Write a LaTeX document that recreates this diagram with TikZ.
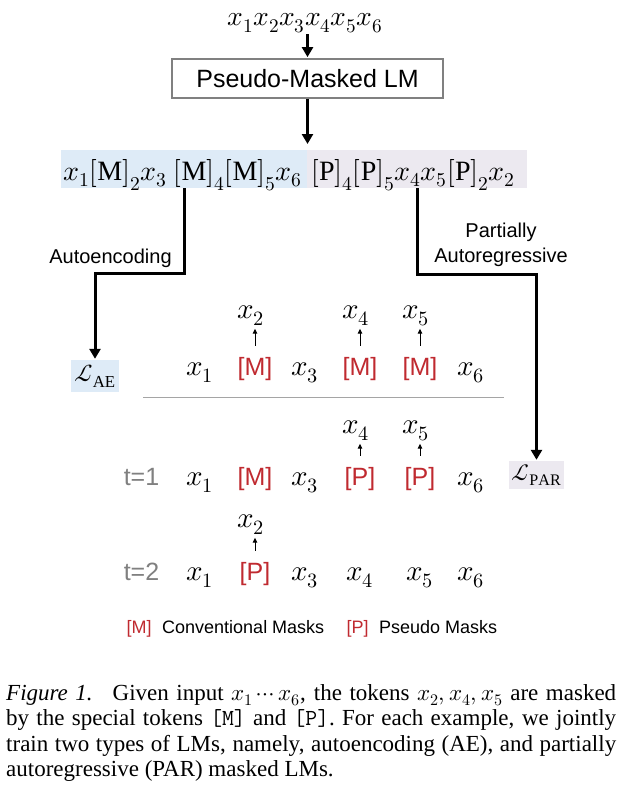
\documentclass[tikz,border=0pt]{standalone}
\usepackage{fontspec}
\usepackage{unicode-math}
\setmainfont{Liberation Serif}
\setmathfont{Latin Modern Math}
\newfontfamily\arial{Liberation Sans}
\usetikzlibrary{arrows.meta,calc}
\definecolor{hlblue}{RGB}{222,235,247}
\definecolor{hllav}{RGB}{236,233,240}
\definecolor{maskred}{RGB}{192,42,48}
\definecolor{tgray}{RGB}{128,128,128}
\definecolor{boxgray}{RGB}{128,128,128}
\definecolor{sepgray}{RGB}{165,165,165}
\begin{document}
\begin{tikzpicture}[x=1pt,y=-1pt,
  tok/.style={inner sep=0pt, anchor=base, text height=18pt, text depth=5pt},
  mtok/.style={tok, font=\fontsize{29}{32}\selectfont},
  atok/.style={tok, font=\arial\fontsize{25}{30}\selectfont},
  mask/.style={atok, text=maskred},
  tlab/.style={atok, text=tgray},
  pred/.style={inner sep=0pt, anchor=base, text height=13pt, text depth=5pt, font=\fontsize{29}{32}\selectfont},
  smallarr/.style={-{Triangle[length=5pt,width=4.5pt]}, line width=1pt, shorten <=11pt, shorten >=5.5pt},
  bigarr/.style={-{Triangle[length=10pt,width=11pt]}, line width=3pt},
  hl/.style={inner sep=0pt, anchor=north west},
  lbl/.style={font=\arial\fontsize{20}{25}\selectfont, align=center, inner sep=0pt},
  legm/.style={inner sep=0pt, anchor=base, font=\arial\fontsize{18}{22}\selectfont, text=maskred},
  legt/.style={inner sep=0pt, anchor=base west, font=\arial\fontsize{18}{22}\selectfont}
]
\useasboundingbox (0,0) rectangle (621,792);
\fill[white] (0,0) rectangle (621,792);

% input and box
\node[inner sep=0pt, anchor=base, font=\fontsize{27.5}{30}\selectfont] (inp) at (305,26) {$x_1x_2x_3x_4x_5x_6$};
\node[draw=boxgray, line width=1.8pt, minimum width=271pt, minimum height=39pt, inner sep=0pt, font=\arial\fontsize{25}{30}\selectfont] (box) at (307.5,78.5) {Pseudo-Masked LM};
\draw[bigarr, shorten <=1pt, shorten >=1pt] (box.north |- inp.south) -- (box.north);

% sequence highlights and text
\node[hl, fill=hlblue, minimum width=246pt, minimum height=38pt] (hlA) at (61,150) {};
\node[hl, fill=hllav, minimum width=220pt, minimum height=38pt] (hlB) at (307,150) {};
\draw[bigarr, shorten >=6pt] (box.south) -- (box.south |- hlA.north);
\node[inner sep=0pt, anchor=base west, font=\fontsize{28}{30}\selectfont] (seqA) at (63,180) {$x_1\mathrm{[M]}_2x_3\ \mathrm{[M]}_4\mathrm{[M]}_5x_6$};
\node[inner sep=0pt, anchor=base west, font=\fontsize{28}{30}\selectfont] (seqB) at (311,180) {$\mathrm{[P]}_4\mathrm{[P]}_5x_4x_5\mathrm{[P]}_2x_2$};

% losses
\node[fill=hlblue, minimum width=48pt, minimum height=32pt, inner sep=0pt, font=\fontsize{24}{28}\selectfont] (LAE) at (95,376) {$\mathcal{L}_{\mathrm{AE}}$};
\node[fill=hllav, minimum width=55pt, minimum height=28pt, inner sep=0pt, font=\fontsize{23}{28}\selectfont] (LPAR) at (536.5,475) {$\mathcal{L}_{\mathrm{PAR}}$};

\coordinate (aeS) at (184,188);
\coordinate (parS) at (417,188);
\draw[bigarr, shorten >=1pt] (aeS) -- ++(0,85) -| (LAE.north);
\draw[bigarr, shorten >=1pt] (parS) -- ++(0,86) -| (LPAR.north);
\node[lbl] (aeLbl) at (110.5,258) {Autoencoding};
\node[lbl] (parLbl) at (501,245) {Partially\\Autoregressive};

% AE row
\node[mtok] (a1) at (200,375) {$x_1$};
\node[mask] (a2) at (255,375) {[M]};
\node[mtok] (a3) at (305,375) {$x_3$};
\node[mask] (a4) at (360,375) {[M]};
\node[mask] (a5) at (420,375) {[M]};
\node[mtok] (a6) at (471,375) {$x_6$};
\node[pred] (ap2) at (251,318) {$x_2$};
\node[pred] (ap4) at (356,318) {$x_4$};
\node[pred] (ap5) at (416,318) {$x_5$};
\draw[smallarr] (a2.north) -- (a2.north |- ap2.south);
\draw[smallarr] (a4.north) -- (a4.north |- ap4.south);
\draw[smallarr] (a5.north) -- (a5.north |- ap5.south);

\draw[sepgray, line width=1pt] (143,397) -- (504,397);

% t=1 row
\node[tlab] (t1) at (141.5,485) {t=1};
\node[mtok] (b1) at (200,485) {$x_1$};
\node[mask] (b2) at (255,485) {[M]};
\node[mtok] (b3) at (305,485) {$x_3$};
\node[mask] (b4) at (360,485) {[P]};
\node[mask] (b5) at (420,485) {[P]};
\node[mtok] (b6) at (471,485) {$x_6$};
\node[pred] (bp4) at (356,433) {$x_4$};
\node[pred] (bp5) at (416,433) {$x_5$};
\draw[smallarr] (b4.north) -- (b4.north |- bp4.south);
\draw[smallarr] (b5.north) -- (b5.north |- bp5.south);

% t=2 row
\node[tlab] (t2) at (141.5,580) {t=2};
\node[mtok] (c1) at (200,580) {$x_1$};
\node[mask] (c2) at (255,580) {[P]};
\node[mtok] (c3) at (305,580) {$x_3$};
\node[mtok] (c4) at (360,580) {$x_4$};
\node[mtok] (c5) at (420,580) {$x_5$};
\node[mtok] (c6) at (471,580) {$x_6$};
\node[pred] (cp2) at (251,527) {$x_2$};
\draw[smallarr] (c2.north) -- (c2.north |- cp2.south);

% legend
\node[legm] (lm) at (139,633) {[M]};
\node[legt] (lmt) at (162,633) {Conventional Masks};
\node[legm] (lp) at (357.5,633) {[P]};
\node[legt] (lpt) at (379,633) {Pseudo Masks};

% caption
\node[anchor=north west, text width=610pt, align=justify, inner sep=0pt, font=\fontsize{23}{25.5}\selectfont] (cap) at (6,684)
{\textit{Figure 1.}\hspace{0.3em} Given input $x_1\cdots x_6$, the tokens $x_2,x_4,x_5$ are masked\linebreak
by the special tokens \texttt{[M]} and \texttt{[P]}. For each example, we jointly\linebreak
train two types of LMs, namely, autoencoding (AE), and partially\linebreak
autoregressive (PAR) masked LMs.};
\end{tikzpicture}
\end{document}
